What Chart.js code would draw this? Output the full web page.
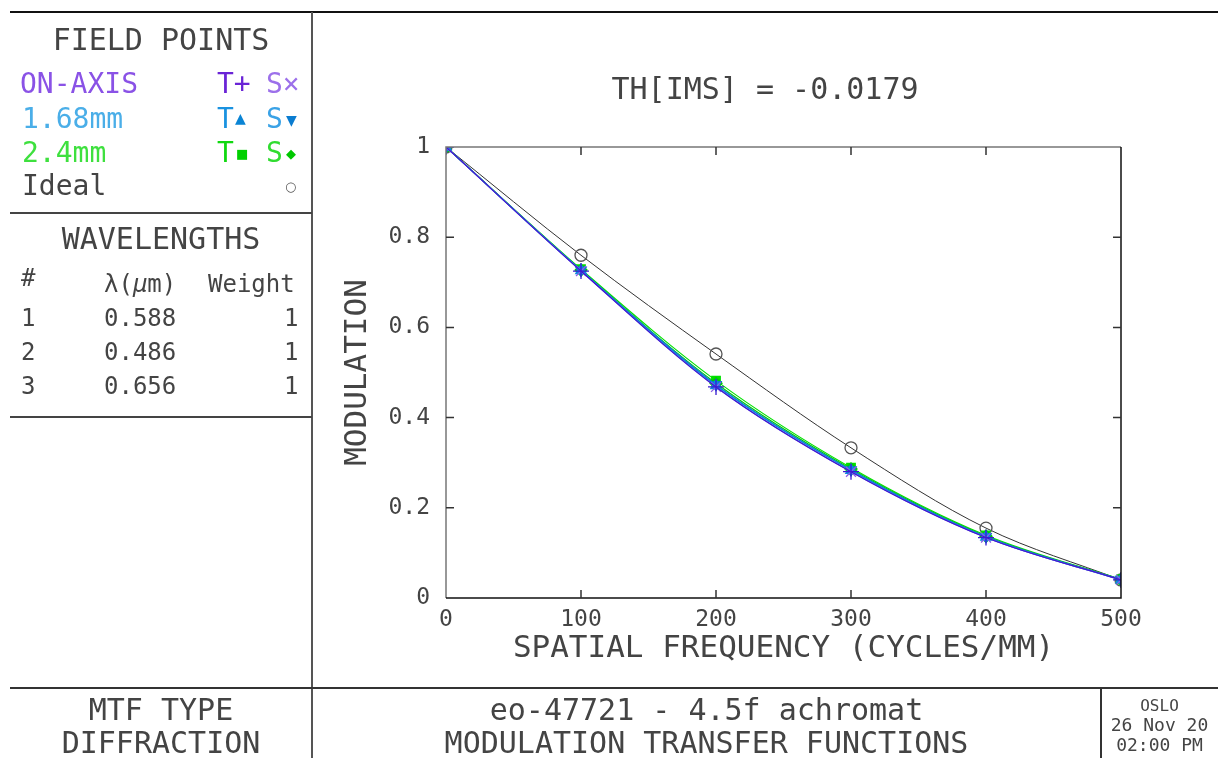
<!DOCTYPE html>
<html><head><meta charset="utf-8">
<script src="https://cdn.jsdelivr.net/npm/chart.js@4.4.1/dist/chart.umd.min.js"></script>
<style>
html,body{margin:0;padding:0;background:#fff;width:1218px;height:758px;overflow:hidden}
#wrap{position:relative;width:1218px;height:758px}
#c{position:absolute;left:0;top:0}
.t{position:absolute;font-family:'DejaVu Sans Mono',monospace;color:#444;white-space:pre;line-height:1;transform:translateY(-50%)}
.sym{position:absolute;font-family:'DejaVu Sans',sans-serif;line-height:1;transform:translateY(-50%)}
.ln{position:absolute;background:#222}
</style></head>
<body>
<div id="wrap">
<canvas id="c" width="1218" height="758"></canvas>
<!-- frame lines -->
<div class="ln" style="left:10px;top:11px;width:1208px;height:1.5px;background:#111"></div>
<div class="ln" style="left:311px;top:12px;width:1.5px;height:746px;background:#555"></div>
<div class="ln" style="left:10px;top:212px;width:302px;height:1.5px;background:#444"></div>
<div class="ln" style="left:10px;top:416px;width:302px;height:1.5px;background:#444"></div>
<div class="ln" style="left:10px;top:687px;width:1208px;height:1.5px;background:#333"></div>
<div class="ln" style="left:1100px;top:688px;width:1.5px;height:70px;background:#333"></div>

<!-- field points panel -->
<div class="t" style="left:10px;width:302px;text-align:center;top:40px;font-size:30px">FIELD POINTS</div>
<div class="t" style="left:20px;top:84px;font-size:28px;color:#8a52e6">ON-AXIS</div>
<div class="t" style="left:217px;top:84px;font-size:28px;color:#6a24d6">T+</div>
<div class="t" style="left:266px;top:84px;font-size:28px;color:#9c70ea">S×</div>
<div class="t" style="left:22px;top:119px;font-size:28px;color:#4aaee8">1.68mm</div>
<div class="t" style="left:217px;top:119px;font-size:28px;color:#1a92e0">T</div>
<div class="sym" style="left:235px;top:118px;font-size:14px;color:#0a84d4">▲</div>
<div class="t" style="left:266px;top:119px;font-size:28px;color:#3aa2e6">S</div>
<div class="sym" style="left:286px;top:120px;font-size:14px;color:#0a7cd0">▼</div>
<div class="t" style="left:22px;top:153px;font-size:28px;color:#3ee03e">2.4mm</div>
<div class="t" style="left:217px;top:153px;font-size:28px;color:#10d810">T</div>
<div class="sym" style="left:236px;top:153px;font-size:13px;color:#00d000">■</div>
<div class="t" style="left:266px;top:153px;font-size:28px;color:#30dc30">S</div>
<div class="sym" style="left:286px;top:153px;font-size:13px;color:#00c800">◆</div>
<div class="t" style="left:22px;top:186px;font-size:28px">Ideal</div>
<div class="sym" style="left:285px;top:186px;font-size:13px;color:#555">○</div>

<!-- wavelengths panel -->
<div class="t" style="left:10px;width:302px;text-align:center;top:239px;font-size:30px">WAVELENGTHS</div>
<div class="t" style="left:21px;top:278px;font-size:24px">#</div>
<div class="t" style="left:104px;top:284px;font-size:24px">λ(<i>μ</i>m)</div>
<div class="t" style="left:208px;top:284px;font-size:24px">Weight</div>
<div class="t" style="left:21px;top:318px;font-size:24px">1</div>
<div class="t" style="left:104px;top:318px;font-size:24px">0.588</div>
<div class="t" style="left:284px;top:318px;font-size:24px">1</div>
<div class="t" style="left:21px;top:352px;font-size:24px">2</div>
<div class="t" style="left:104px;top:352px;font-size:24px">0.486</div>
<div class="t" style="left:284px;top:352px;font-size:24px">1</div>
<div class="t" style="left:21px;top:386px;font-size:24px">3</div>
<div class="t" style="left:104px;top:386px;font-size:24px">0.656</div>
<div class="t" style="left:284px;top:386px;font-size:24px">1</div>

<!-- plot title -->
<div class="t" style="left:312px;width:906px;text-align:center;top:89px;font-size:30px">TH[IMS] = -0.0179</div>

<!-- bottom panels -->
<div class="t" style="left:10px;width:302px;text-align:center;top:710px;font-size:30px">MTF TYPE</div>
<div class="t" style="left:10px;width:302px;text-align:center;top:743px;font-size:30px">DIFFRACTION</div>
<div class="t" style="left:312px;width:789px;text-align:center;top:710px;font-size:30px">eo-47721 - 4.5f achromat</div>
<div class="t" style="left:312px;width:789px;text-align:center;top:743px;font-size:30px">MODULATION TRANSFER FUNCTIONS</div>
<div class="t" style="left:1101px;width:117px;text-align:center;top:706px;font-size:16px">OSLO</div>
<div class="t" style="left:1101px;width:117px;text-align:center;top:725px;font-size:18px">26 Nov 20</div>
<div class="t" style="left:1101px;width:117px;text-align:center;top:745px;font-size:18px">02:00 PM</div>
</div>
<script>
// ---- data ----
const frequencies = [0, 100, 200, 300, 400, 500];
const idealMTF   = [1, 0.760, 0.541, 0.333, 0.155, 0.040];
const onAxisT    = [1, 0.725, 0.468, 0.280, 0.134, 0.040];
const onAxisS    = [1, 0.725, 0.468, 0.280, 0.134, 0.040];
const field168T  = [1, 0.726, 0.471, 0.283, 0.135, 0.040];
const field168S  = [1, 0.727, 0.473, 0.284, 0.136, 0.041];
const field24T   = [1, 0.729, 0.482, 0.289, 0.139, 0.041];
const field24S   = [1, 0.727, 0.476, 0.286, 0.137, 0.041];

const FONT = "'DejaVu Sans Mono', monospace";
const pts = arr => frequencies.map((f, i) => ({x: f, y: arr[i]}));

function ds(label, arr, color, style, opts) {
  return Object.assign({
    label, data: pts(arr),
    borderColor: color, backgroundColor: color,
    pointBorderColor: color, pointBackgroundColor: color,
    pointStyle: style, pointRadius: 6, pointBorderWidth: 1.3,
    borderWidth: 1.2, cubicInterpolationMode: 'monotone', fill: false
  }, opts || {});
}

const frameAndTicks = {
  id: 'frameAndTicks',
  afterDatasetsDraw(chart) {
    const {ctx, chartArea: a, scales: {x, y}} = chart;
    ctx.save();
    ctx.lineWidth = 1.5;
    const L = 8;
    ctx.strokeStyle = '#777';
    ctx.beginPath();
    ctx.moveTo(a.left, a.bottom); ctx.lineTo(a.left, a.top); ctx.lineTo(a.right, a.top);
    ctx.stroke();
    ctx.strokeStyle = '#111';
    ctx.beginPath();
    ctx.moveTo(a.right, a.top); ctx.lineTo(a.right, a.bottom); ctx.lineTo(a.left, a.bottom);
    ctx.stroke();
    ctx.strokeStyle = '#333';
    ctx.beginPath();
    x.ticks.forEach(t => {
      const px = x.getPixelForValue(t.value);
      if (t.value > x.min && t.value < x.max) {
        ctx.moveTo(px, a.bottom); ctx.lineTo(px, a.bottom - L);
        ctx.moveTo(px, a.top); ctx.lineTo(px, a.top + L);
      }
    });
    y.ticks.forEach(t => {
      const py = y.getPixelForValue(t.value);
      if (t.value > y.min && t.value < y.max) {
        ctx.moveTo(a.left, py); ctx.lineTo(a.left + L, py);
        ctx.moveTo(a.right, py); ctx.lineTo(a.right - L, py);
      }
    });
    ctx.stroke();
    ctx.restore();
  }
};

new Chart(document.getElementById('c'), {
  type: 'line',
  data: {
    datasets: [
      ds('Ideal', idealMTF, '#333', 'circle', {pointBackgroundColor: 'rgba(255,255,255,0)', pointBorderColor: '#555', pointRadius: 6, borderWidth: 1, order: 10}),
      ds('ON-AXIS T', onAxisT, '#3a1ad0', 'cross', {pointRadius: 8, order: 2}),
      ds('ON-AXIS S', onAxisS, '#8c5ee8', 'crossRot', {pointRadius: 7, order: 3}),
      ds('1.68mm T', field168T, '#0a8ae0', 'triangle', {order: 4}),
      ds('1.68mm S', field168S, '#0a78d0', 'triangle', {pointRotation: 180, order: 5}),
      ds('2.4mm S', field24S, '#00cc00', 'rectRot', {order: 6}),
      ds('2.4mm T', field24T, '#00e000', 'rect', {order: 7})
    ]
  },
  options: {
    responsive: false, animation: false,
    layout: {padding: {left: 342, right: 97, top: 147, bottom: 94}},
    plugins: {legend: {display: false}, tooltip: {enabled: false}, title: {display: false}},
    scales: {
      x: {
        type: 'linear', min: 0, max: 500,
        ticks: {stepSize: 100, color: '#444', font: {family: FONT, size: 23}, padding: 8, maxRotation: 0},
        grid: {display: false, drawTicks: false}, border: {display: false},
        title: {display: true, text: 'SPATIAL FREQUENCY (CYCLES/MM)', color: '#444', font: {family: FONT, size: 31, lineHeight: 1}, padding: {top: 0, bottom: 0}},
        afterFit(s) { s.height = 66; }
      },
      y: {
        type: 'linear', min: 0, max: 1,
        ticks: {stepSize: 0.2, color: '#444', font: {family: FONT, size: 23}, padding: 16,
          callback: v => String(Number(v.toFixed(1)))},
        grid: {display: false, drawTicks: false}, border: {display: false},
        title: {display: true, text: 'MODULATION', color: '#444', font: {family: FONT, size: 31, lineHeight: 1}, padding: {top: 0, bottom: 0}},
        afterFit(s) { s.width = 104; }
      }
    }
  },
  plugins: [frameAndTicks]
});
</script>
</body></html>
